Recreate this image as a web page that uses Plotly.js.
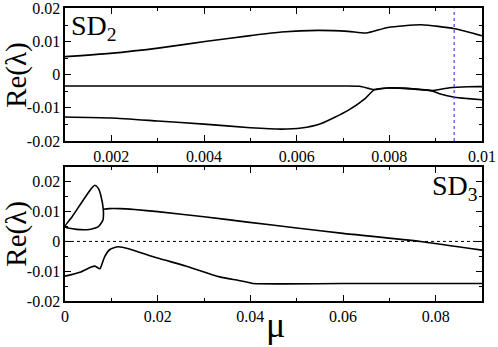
<!DOCTYPE html>
<html>
<head>
<meta charset="utf-8">
<script src="https://cdn.plot.ly/plotly-3.0.1.min.js"></script>
<style>
  html, body { margin: 0; padding: 0; background: #fff; }
  #plot { width: 498px; height: 347px; }
</style>
</head>
<body>
<div id="plot"></div>
<script>
// SD2 panel (top)
const sd2UpperMu = [0.001, 0.00197, 0.00305, 0.00406, 0.005, 0.00567, 0.00646, 0.00711, 0.0075, 0.00797, 0.00869, 0.00941, 0.01];
const sd2UpperRe = [0.0055, 0.00648, 0.00815, 0.01015, 0.01185, 0.01293, 0.01343, 0.01313, 0.01263, 0.01433, 0.01513, 0.01394, 0.0118];

const sd2MidMu = [0.001, 0.004, 0.007, 0.00736, 0.00755, 0.00768, 0.00797, 0.0085, 0.0089, 0.0093, 0.0097, 0.01];
const sd2MidRe = [-0.00338, -0.00338, -0.0034, -0.00348, -0.0041, -0.00448, -0.00397, -0.00425, -0.00478, -0.0039, -0.0036, -0.00358];

const sd2LowMu = [0.001, 0.002, 0.003, 0.004, 0.005, 0.00567, 0.0061, 0.00653, 0.00711, 0.00747, 0.00768, 0.00797, 0.0085, 0.0089, 0.0091, 0.00941, 0.0097, 0.01];
const sd2LowRe = [-0.01274, -0.01305, -0.01395, -0.0149, -0.0160, -0.01642, -0.0161, -0.01472, -0.01075, -0.00726, -0.00448, -0.00397, -0.00425, -0.00478, -0.0058, -0.00677, -0.0072, -0.00756];

const sd2Marker = 0.0094;

// SD3 panel (bottom)
const sd3LoopMu = [0, 0.0015, 0.003, 0.0045, 0.0058, 0.00646, 0.0072, 0.0078, 0.00826, 0.0083, 0.0082, 0.0072, 0.0058, 0.0047, 0.0025, 0.001, 0];
const sd3LoopRe = [0.00495, 0.0082, 0.0117, 0.0152, 0.0180, 0.01886, 0.0178, 0.0150, 0.0108, 0.0090, 0.0072, 0.00495, 0.0042, 0.00394, 0.00404, 0.0044, 0.00495];

const sd3UpperMu = [0.00826, 0.0095, 0.01185, 0.015, 0.02, 0.03, 0.0394, 0.05, 0.06, 0.0767, 0.09];
const sd3UpperRe = [0.0108, 0.0110, 0.0110, 0.0107, 0.0100, 0.0083, 0.0065, 0.0045, 0.0027, 0.0, -0.00293];

const sd3LowerMu = [0, 0.00323, 0.0055, 0.00646, 0.00754, 0.0080, 0.00862, 0.0097, 0.01149, 0.014, 0.01976, 0.0262, 0.0334, 0.0375, 0.0399, 0.0405, 0.06, 0.09];
const sd3LowerRe = [-0.01167, -0.01033, -0.0087, -0.0083, -0.0092, -0.0075, -0.00494, -0.0027, -0.00179, -0.0026, -0.0055, -0.0083, -0.0119, -0.0131, -0.0139, -0.01414, -0.01414, -0.01414];

const sd2XTicks = [0.002, 0.004, 0.006, 0.008, 0.01];
const sd3XTicks = [0, 0.02, 0.04, 0.06, 0.08];
const reTicks = [-0.02, -0.01, 0, 0.01, 0.02];
const reTickText = ['-0.02', '-0.01', '0', '0.01', '0.02'];

const serif = 'Liberation Serif';
const black = { color: 'black', width: 1.6 };

const traces = [
  { x: sd2UpperMu, y: sd2UpperRe, xaxis: 'x', yaxis: 'y', line: black },
  { x: sd2MidMu, y: sd2MidRe, xaxis: 'x', yaxis: 'y', line: black },
  { x: sd2LowMu, y: sd2LowRe, xaxis: 'x', yaxis: 'y', line: black },
  { x: [sd2Marker, sd2Marker], y: [-0.02, 0.02], xaxis: 'x', yaxis: 'y',
    line: { color: '#5555ee', width: 1.3, dash: 'dot' } },
  { x: [0, 0.09], y: [0, 0], xaxis: 'x2', yaxis: 'y2',
    line: { color: 'black', width: 1, dash: 'dot' } },
  { x: sd3LoopMu, y: sd3LoopRe, xaxis: 'x2', yaxis: 'y2', line: black },
  { x: sd3UpperMu, y: sd3UpperRe, xaxis: 'x2', yaxis: 'y2', line: black },
  { x: sd3LowerMu, y: sd3LowerRe, xaxis: 'x2', yaxis: 'y2', line: black }
].map(t => {
  t.mode = 'lines';
  t.showlegend = false;
  t.hoverinfo = 'skip';
  t.line = Object.assign({ shape: 'spline', smoothing: 0.6 }, t.line);
  return t;
});

function axis(extra) {
  return Object.assign({
    showgrid: false, zeroline: false,
    showline: true, linecolor: 'black', linewidth: 1.6, mirror: 'ticks',
    ticks: 'inside', ticklen: 6, tickwidth: 1, tickcolor: 'black',
    tickfont: { family: serif, size: 16, color: 'black' }
  }, extra);
}

const layout = {
  width: 498, height: 347,
  margin: { l: 65, r: 16, t: 8, b: 46 },
  paper_bgcolor: 'white', plot_bgcolor: 'white',
  font: { family: serif, color: 'black' },
  xaxis: axis({ domain: [0, 1], range: [0.001, 0.01], tickvals: sd2XTicks,
    ticktext: sd2XTicks.map(String), minor: { ticks: 'inside', ticklen: 3, dtick: 0.001, tickcolor: 'black' },
    anchor: 'y' }),
  yaxis: axis({ domain: [0.5462, 1], range: [-0.02, 0.0202], tickvals: reTicks, ticktext: reTickText,
    minor: { ticks: 'inside', ticklen: 3, dtick: 0.005, tickcolor: 'black' }, anchor: 'x' }),
  xaxis2: axis({ domain: [0, 1], range: [0, 0.09], tickvals: sd3XTicks,
    ticktext: sd3XTicks.map(String), minor: { ticks: 'inside', ticklen: 3, dtick: 0.01, tickcolor: 'black' },
    anchor: 'y2' }),
  yaxis2: axis({ domain: [0, 0.4574], range: [-0.02, 0.025], tickvals: reTicks, ticktext: reTickText,
    minor: { ticks: 'inside', ticklen: 3, dtick: 0.005, tickcolor: 'black' }, anchor: 'x2' }),
  annotations: [
    { text: 'SD<sub>2</sub>', xref: 'x domain', yref: 'y domain', x: 0.01, y: 1.0,
      xanchor: 'left', yanchor: 'top', showarrow: false, font: { family: serif, size: 28, color: 'black' } },
    { text: 'SD<sub>3</sub>', xref: 'x2 domain', yref: 'y2 domain', x: 0.995, y: 0.99,
      xanchor: 'right', yanchor: 'top', showarrow: false, font: { family: serif, size: 28, color: 'black' } },
    { text: 'Re(λ)', xref: 'paper', yref: 'paper', x: -0.115, y: 0.772, textangle: -90,
      xanchor: 'center', yanchor: 'middle', showarrow: false, font: { family: serif, size: 29, color: 'black' } },
    { text: 'Re(λ)', xref: 'paper', yref: 'paper', x: -0.115, y: 0.23, textangle: -90,
      xanchor: 'center', yanchor: 'middle', showarrow: false, font: { family: serif, size: 29, color: 'black' } },
    { text: 'μ', xref: 'paper', yref: 'paper', x: 0.505, y: -0.155,
      xanchor: 'center', yanchor: 'bottom', borderpad: 0, showarrow: false,
      font: { family: serif, size: 36, color: 'black' } }
  ]
};

Plotly.newPlot('plot', traces, layout, { staticPlot: true });
</script>
</body>
</html>
